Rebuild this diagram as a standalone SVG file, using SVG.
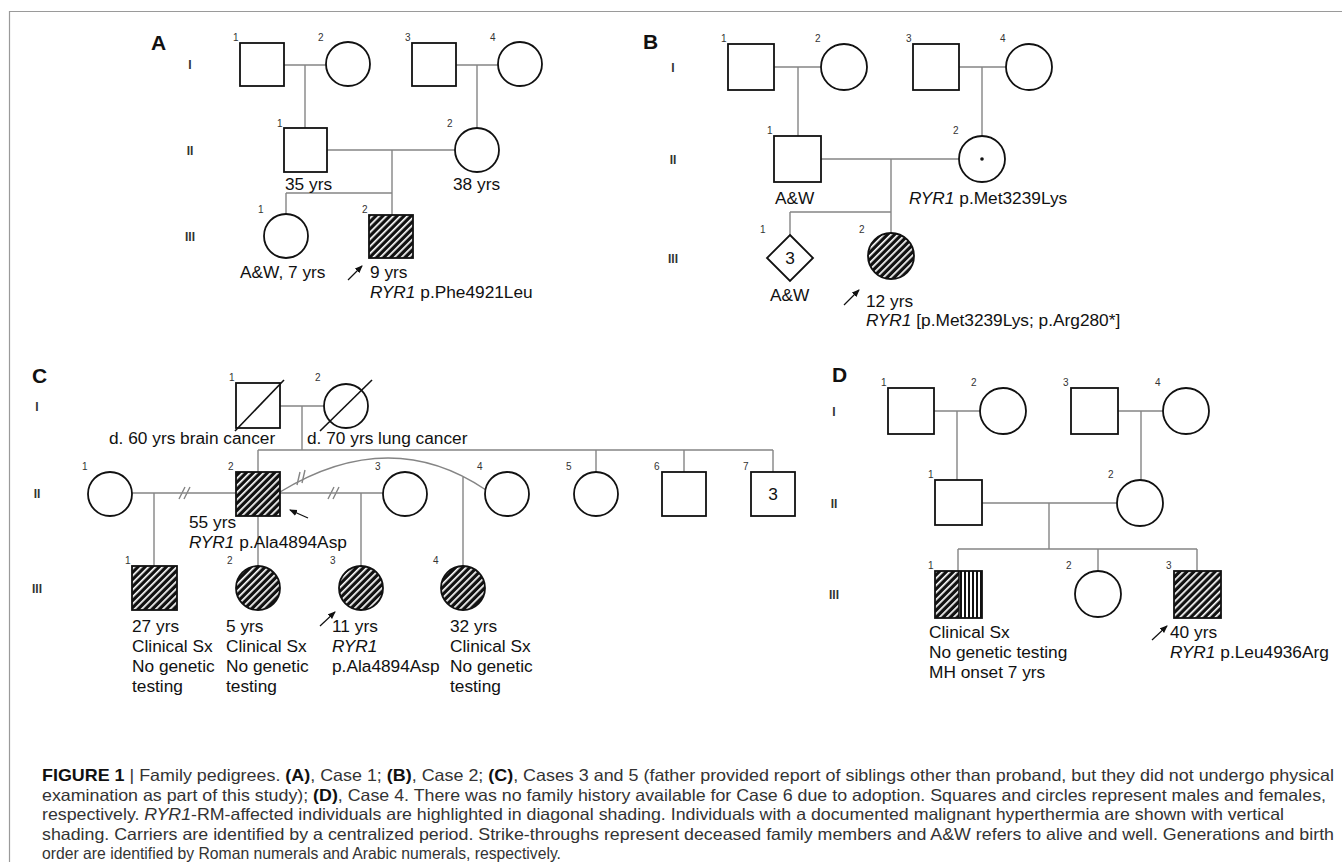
<svg xmlns="http://www.w3.org/2000/svg" width="1342" height="862" viewBox="0 0 1342 862">
<defs>
<style>
.bg{fill:#fff}
.frame{stroke:#9a9a9a;stroke-width:1.2;fill:none}
.sym{fill:#fff;stroke:#111;stroke-width:1.8}
.aff{fill:url(#diag);stroke:#111;stroke-width:1.8}
.ln{stroke:#858585;stroke-width:1.4;fill:none}
.strike{stroke:#111;stroke-width:1.6}
.arr{stroke:#111;stroke-width:1.2;marker-end:url(#ah)}
.t{font-family:"Liberation Sans",Arial,sans-serif;font-size:17.3px;fill:#111}
.i{font-style:italic}
.n{font-family:"Liberation Sans",Arial,sans-serif;font-size:10px;fill:#333}
.g{font-family:"Liberation Sans",Arial,sans-serif;font-size:12px;font-weight:bold;fill:#333;text-anchor:middle}
.p{font-family:"Liberation Sans",Arial,sans-serif;font-size:21px;font-weight:bold;fill:#111}
.c{font-family:"Liberation Sans",Arial,sans-serif;font-size:16.5px;fill:#333}
.b{font-weight:bold;fill:#111}
.ctr{text-anchor:middle}
</style>
<pattern id="diag" patternUnits="userSpaceOnUse" width="5" height="5" patternTransform="rotate(45)">
<rect width="5" height="5" fill="#111"/>
<rect width="1.7" height="5" fill="#fff"/>
</pattern>
<pattern id="vert" patternUnits="userSpaceOnUse" width="4" height="4">
<rect width="4" height="4" fill="#fff"/>
<rect width="2" height="4" fill="#111"/>
</pattern>
<marker id="ah" markerUnits="userSpaceOnUse" markerWidth="8" markerHeight="8" refX="7" refY="4" orient="auto">
<path d="M0,0.8 L8,4 L0,7.2 z" fill="#111"/>
</marker>
</defs>
<rect class="bg" width="1342" height="862"/>
<path class="frame" d="M9.5,862 V11.5 H1342"/>

<!-- Panel labels and generation labels -->
<g id="labels">
<text class="p" x="151" y="50">A</text>
<text class="g" x="190" y="69">I</text>
<text class="g" x="190" y="155">II</text>
<text class="g" x="190" y="241">III</text>
<text class="p" x="643" y="49">B</text>
<text class="g" x="673" y="72">I</text>
<text class="g" x="673" y="164">II</text>
<text class="g" x="673" y="263">III</text>
<text class="p" x="32" y="383">C</text>
<text class="g" x="37" y="411">I</text>
<text class="g" x="37" y="498">II</text>
<text class="g" x="37" y="593">III</text>
<text class="p" x="832" y="382">D</text>
<text class="g" x="834" y="416">I</text>
<text class="g" x="834" y="508">II</text>
<text class="g" x="834" y="599">III</text>
</g>

<!-- Connectors -->
<g id="connectors">
<path class="ln" d="M284,65 H326 M305,65 V128 M456,65 H498 M477,65 V128 M327,150 H455 M392,150 V215 M286,193 H392 M286,193 V214"/>
<path class="ln" d="M774,67 H821 M798,67 V136 M959,67 H1006 M982,67 V136 M821,159 H959 M891,159 V233 M790,212 H891 M790,212 V235"/>
<path class="ln" d="M280,406 H324 M302,406 V450 M258,450 H773 M258,450 V472 M596,450 V472 M684,450 V472 M773,450 V472 M258,516 V566"/>
<path class="ln" d="M132,493 H236 M154,493 V566 M280,493 H383 M361,493 V566"/>
<path class="ln" d="M280,492 Q390,425 486,490 M463,477 V566"/>
<path class="ln" d="M179,499 L185,487 M184,499 L190,487 M328,499 L334,487 M333,499 L339,487 M297,485 L300,472 M302,483 L305,470"/>
<path class="ln" d="M934,411 H980 M957,411 V480 M1118,411 H1163 M1141,411 V480 M982,503 H1117 M1049,503 V549 M958,549 H1197 M958,549 V571 M1098,549 V571 M1197,549 V571"/>
</g>

<!-- Panel A -->
<g id="A-I-1"><rect class="sym" x="240" y="43" width="44" height="43"/><text class="n" x="233" y="41">1</text></g>
<g id="A-I-2"><circle class="sym" cx="348" cy="64" r="22"/><text class="n" x="318" y="41">2</text></g>
<g id="A-I-3"><rect class="sym" x="412" y="43" width="44" height="43"/><text class="n" x="405" y="41">3</text></g>
<g id="A-I-4"><circle class="sym" cx="520" cy="64" r="22"/><text class="n" x="490" y="41">4</text></g>
<g id="A-II-1"><rect class="sym" x="284" y="128" width="43" height="44"/><text class="n" x="277" y="127">1</text><text class="t" x="285" y="190">35 yrs</text></g>
<g id="A-II-2"><circle class="sym" cx="477" cy="150" r="22"/><text class="n" x="447" y="127">2</text><text class="t" x="453" y="190">38 yrs</text></g>
<g id="A-III-1"><circle class="sym" cx="286" cy="236" r="22"/><text class="n" x="258" y="213">1</text><text class="t" x="240" y="278">A&amp;W, 7 yrs</text></g>
<g id="A-III-2"><rect class="aff" x="369" y="215" width="44" height="43"/><text class="n" x="362" y="213">2</text>
<line class="arr" x1="348" y1="280" x2="362" y2="266"/>
<text class="t" x="370" y="278">9 yrs</text><text class="t" x="370" y="298"><tspan class="i">RYR1</tspan> p.Phe4921Leu</text></g>

<!-- Panel B -->
<g id="B-I-1"><rect class="sym" x="728" y="44" width="46" height="46"/><text class="n" x="721" y="42">1</text></g>
<g id="B-I-2"><circle class="sym" cx="844" cy="67" r="23"/><text class="n" x="815" y="42">2</text></g>
<g id="B-I-3"><rect class="sym" x="913" y="44" width="46" height="46"/><text class="n" x="906" y="42">3</text></g>
<g id="B-I-4"><circle class="sym" cx="1029" cy="67" r="23"/><text class="n" x="1000" y="42">4</text></g>
<g id="B-II-1"><rect class="sym" x="774" y="136" width="47" height="46"/><text class="n" x="767" y="134">1</text><text class="t" x="775" y="204">A&amp;W</text></g>
<g id="B-II-2"><circle class="sym" cx="982" cy="159" r="23"/><circle cx="982" cy="159" r="1.8" fill="#111"/><text class="n" x="953" y="134">2</text><text class="t" x="909" y="204"><tspan class="i">RYR1</tspan> p.Met3239Lys</text></g>
<g id="B-III-1"><path class="sym" d="M790,235 L813,258 L790,281 L767,258 Z"/><text class="t ctr" x="790" y="264">3</text><text class="n" x="760" y="233">1</text><text class="t" x="770" y="301">A&amp;W</text></g>
<g id="B-III-2"><circle class="aff" cx="891" cy="256" r="23"/><text class="n" x="859" y="233">2</text>
<line class="arr" x1="844" y1="305" x2="859" y2="290"/>
<text class="t" x="866" y="307">12 yrs</text><text class="t" x="866" y="326"><tspan class="i">RYR1</tspan> [p.Met3239Lys; p.Arg280*]</text></g>

<!-- Panel C -->
<g id="C-I-1"><rect class="sym" x="236" y="383" width="44" height="45"/><line class="strike" x1="235" y1="431" x2="284" y2="380"/><text class="n" x="229" y="381">1</text><text class="t" x="109" y="444">d. 60 yrs brain cancer</text></g>
<g id="C-I-2"><circle class="sym" cx="346" cy="406" r="22"/><line class="strike" x1="320" y1="431" x2="372" y2="380"/><text class="n" x="315" y="381">2</text><text class="t" x="307" y="444">d. 70 yrs lung cancer</text></g>
<g id="C-II-1"><circle class="sym" cx="110" cy="494" r="22"/><text class="n" x="82" y="470">1</text></g>
<g id="C-II-2"><rect class="aff" x="236" y="472" width="44" height="44"/><text class="n" x="228" y="470">2</text>
<line class="arr" x1="308" y1="518" x2="290" y2="510"/>
<text class="t" x="189" y="528">55 yrs</text><text class="t" x="189" y="548"><tspan class="i">RYR1</tspan> p.Ala4894Asp</text></g>
<g id="C-II-3"><circle class="sym" cx="405" cy="494" r="22"/><text class="n" x="375" y="470">3</text></g>
<g id="C-II-4"><circle class="sym" cx="507" cy="494" r="22"/><text class="n" x="477" y="470">4</text></g>
<g id="C-II-5"><circle class="sym" cx="596" cy="494" r="22"/><text class="n" x="566" y="470">5</text></g>
<g id="C-II-6"><rect class="sym" x="662" y="472" width="44" height="44"/><text class="n" x="654" y="470">6</text></g>
<g id="C-II-7"><rect class="sym" x="751" y="472" width="44" height="44"/><text class="t ctr" x="773" y="500">3</text><text class="n" x="743" y="470">7</text></g>
<g id="C-III-1"><rect class="aff" x="132" y="566" width="45" height="44"/><text class="n" x="125" y="564">1</text>
<text class="t" x="132" y="632">27 yrs</text><text class="t" x="132" y="652">Clinical Sx</text><text class="t" x="132" y="672">No genetic</text><text class="t" x="132" y="692">testing</text></g>
<g id="C-III-2"><circle class="aff" cx="258" cy="588" r="22"/><text class="n" x="227" y="564">2</text>
<text class="t" x="226" y="632">5 yrs</text><text class="t" x="226" y="652">Clinical Sx</text><text class="t" x="226" y="672">No genetic</text><text class="t" x="226" y="692">testing</text></g>
<g id="C-III-3"><circle class="aff" cx="361" cy="588" r="22"/><text class="n" x="330" y="564">3</text>
<line class="arr" x1="320" y1="626" x2="335" y2="612"/>
<text class="t" x="332" y="632">11 yrs</text><text class="t i" x="332" y="652">RYR1</text><text class="t" x="332" y="672">p.Ala4894Asp</text></g>
<g id="C-III-4"><circle class="aff" cx="463" cy="588" r="22"/><text class="n" x="433" y="564">4</text>
<text class="t" x="450" y="632">32 yrs</text><text class="t" x="450" y="652">Clinical Sx</text><text class="t" x="450" y="672">No genetic</text><text class="t" x="450" y="692">testing</text></g>

<!-- Panel D -->
<g id="D-I-1"><rect class="sym" x="888" y="388" width="46" height="46"/><text class="n" x="881" y="386">1</text></g>
<g id="D-I-2"><circle class="sym" cx="1003" cy="411" r="23"/><text class="n" x="971" y="386">2</text></g>
<g id="D-I-3"><rect class="sym" x="1071" y="388" width="47" height="46"/><text class="n" x="1063" y="386">3</text></g>
<g id="D-I-4"><circle class="sym" cx="1186" cy="411" r="23"/><text class="n" x="1155" y="386">4</text></g>
<g id="D-II-1"><rect class="sym" x="935" y="480" width="47" height="45"/><text class="n" x="928" y="478">1</text></g>
<g id="D-II-2"><circle class="sym" cx="1140" cy="503" r="23"/><text class="n" x="1108" y="478">2</text></g>
<g id="D-III-1"><rect x="935" y="571" width="24" height="47" fill="url(#diag)"/><rect x="959" y="571" width="23" height="47" fill="url(#vert)"/><line x1="959" y1="571" x2="959" y2="618" stroke="#111" stroke-width="1.6"/><rect x="935" y="571" width="47" height="47" fill="none" stroke="#111" stroke-width="1.8"/><text class="n" x="928" y="569">1</text>
<text class="t" x="929" y="638">Clinical Sx</text><text class="t" x="929" y="658">No genetic testing</text><text class="t" x="929" y="678">MH onset 7 yrs</text></g>
<g id="D-III-2"><circle class="sym" cx="1098" cy="594" r="23"/><text class="n" x="1066" y="569">2</text></g>
<g id="D-III-3"><rect class="aff" x="1174" y="571" width="47" height="47"/><text class="n" x="1166" y="569">3</text>
<line class="arr" x1="1152" y1="640" x2="1167" y2="626"/>
<text class="t" x="1170" y="638">40 yrs</text><text class="t" x="1170" y="658"><tspan class="i">RYR1</tspan> p.Leu4936Arg</text></g>

<!-- Caption -->
<g id="caption">
<text class="c" x="42" y="781" textLength="1292" lengthAdjust="spacingAndGlyphs"><tspan class="b">FIGURE 1</tspan> | Family pedigrees. <tspan class="b">(A)</tspan>, Case 1; <tspan class="b">(B)</tspan>, Case 2; <tspan class="b">(C)</tspan>, Cases 3 and 5 (father provided report of siblings other than proband, but they did not undergo physical</text>
<text class="c" x="42" y="800.5" textLength="1284" lengthAdjust="spacingAndGlyphs">examination as part of this study); <tspan class="b">(D)</tspan>, Case 4. There was no family history available for Case 6 due to adoption. Squares and circles represent males and females,</text>
<text class="c" x="42" y="820" textLength="1242" lengthAdjust="spacingAndGlyphs">respectively. <tspan class="i">RYR1</tspan>-RM-affected individuals are highlighted in diagonal shading. Individuals with a documented malignant hyperthermia are shown with vertical</text>
<text class="c" x="42" y="839.5" textLength="1292" lengthAdjust="spacingAndGlyphs">shading. Carriers are identified by a centralized period. Strike-throughs represent deceased family members and A&amp;W refers to alive and well. Generations and birth</text>
<text class="c" x="42" y="859" textLength="519" lengthAdjust="spacingAndGlyphs">order are identified by Roman numerals and Arabic numerals, respectively.</text>
</g>
</svg>
